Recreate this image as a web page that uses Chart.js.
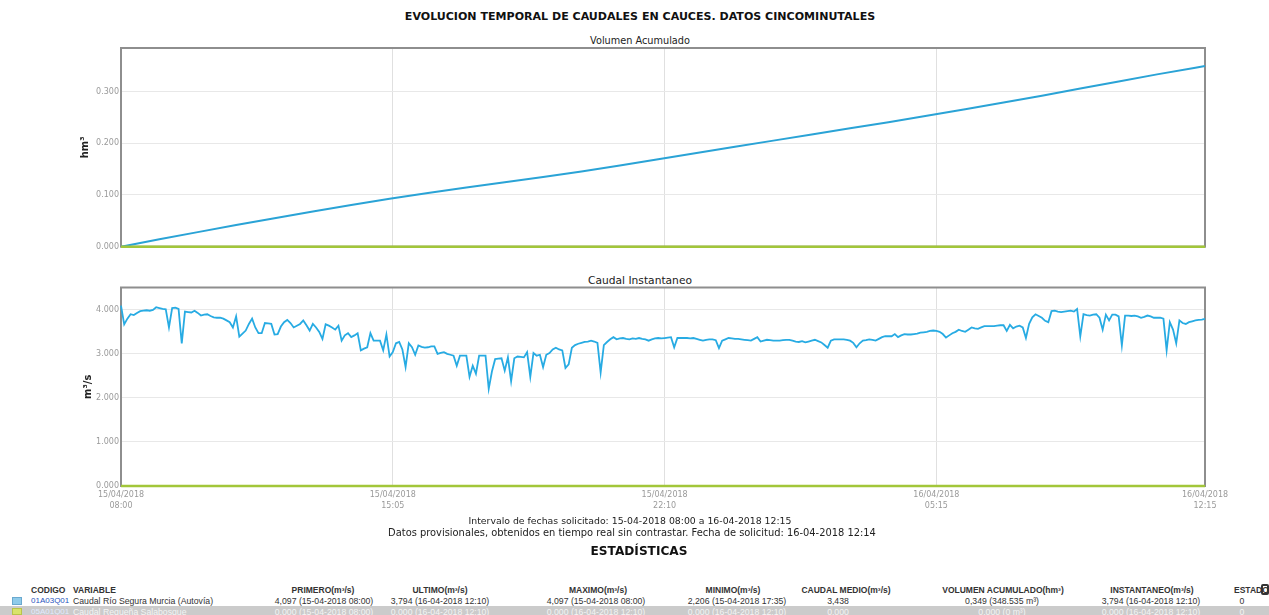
<!DOCTYPE html>
<html lang="es"><head><meta charset="utf-8">
<title>Evolución temporal de caudales</title>
<script src="https://cdn.jsdelivr.net/npm/chart.js@4.4.1/dist/chart.umd.min.js"></script>
<style>
html,body{margin:0;padding:0;background:#fff;}
body{width:1269px;height:615px;overflow:hidden;position:relative;font-family:"DejaVu Sans",sans-serif;color:#222;}
.t{position:absolute;white-space:nowrap;transform:translate(-50%,-50%);line-height:1;}
.l{position:absolute;white-space:nowrap;transform:translateY(-50%);line-height:1;}
canvas{position:absolute;left:0;}
.h{font-family:"Liberation Sans",Arial,sans-serif;font-weight:bold;font-size:8.5px;color:#333;}
.v{font-family:"Liberation Sans",Arial,sans-serif;font-size:8.7px;color:#333;}
.c{font-size:8px;}
.r2{color:#f4f4f4;}
.code{color:#2a55c0;}
.code.r2{color:#e2eaff;}
</style></head><body>
<div class="t" style="left:640px;top:17px;font-weight:bold;font-size:12px;color:#111" data-w="471">EVOLUCION TEMPORAL DE CAUDALES EN CAUCES. DATOS CINCOMINUTALES</div>
<div class="t" style="left:640px;top:41px;font-size:10px;color:#222" data-w="100">Volumen Acumulado</div>
<canvas id="c1" width="1269" height="230" style="top:30px"></canvas>
<div class="t" style="left:640px;top:281px;font-size:10px;color:#222" data-w="104">Caudal Instantaneo</div>
<canvas id="c2" width="1269" height="250" style="top:270px"></canvas>

<div class="t" style="left:630px;top:521px;font-size:11px;color:#222" data-w="323">Intervalo de fechas solicitado: 15-04-2018 08:00 a 16-04-2018 12:15</div>
<div class="t" style="left:632px;top:533px;font-size:11px;color:#222" data-w="489">Datos provisionales, obtenidos en tiempo real sin contrastar. Fecha de solicitud: 16-04-2018 12:14</div>
<div class="t" style="left:639px;top:551px;font-size:11px;font-weight:bold;color:#111" data-w="97">ESTADÍSTICAS</div>

<div style="position:absolute;left:1261px;top:584px;width:8px;height:11px;border:2px solid #333;border-radius:2px;box-sizing:border-box;"></div>

<!-- table -->
<div class="l h" style="left:31px;top:590px">CODIGO</div>
<div class="l h" style="left:73px;top:590px">VARIABLE</div>
<div class="t h" style="left:323px;top:590px">PRIMERO(m³/s)</div>
<div class="t h" style="left:440px;top:590px">ULTIMO(m³/s)</div>
<div class="t h" style="left:598px;top:590px">MAXIMO(m³/s)</div>
<div class="t h" style="left:733px;top:590px">MINIMO(m³/s)</div>
<div class="t h" style="left:846px;top:590px">CAUDAL MEDIO(m³/s)</div>
<div class="t h" style="left:1003px;top:590px">VOLUMEN ACUMULADO(hm³)</div>
<div class="t h" style="left:1152px;top:590px">INSTANTANEO(m³/s)</div>
<div class="l h" style="left:1234px;top:590px">ESTADO</div>

<div style="position:absolute;left:12px;top:597px;width:10px;height:8px;background:#8fcbea;border:1px solid #6aa9cf;box-sizing:border-box"></div>
<div class="l v c code" style="left:31px;top:601px">01A03Q01</div>
<div class="l v" style="left:73px;top:601px">Caudal Río Segura Murcia (Autovía)</div>
<div class="t v" style="left:324px;top:601px">4,097 (15-04-2018 08:00)</div>
<div class="t v" style="left:440px;top:601px">3,794 (16-04-2018 12:10)</div>
<div class="t v" style="left:596px;top:601px">4,097 (15-04-2018 08:00)</div>
<div class="t v" style="left:737px;top:601px">2,206 (15-04-2018 17:35)</div>
<div class="t v" style="left:838px;top:601px">3,438</div>
<div class="t v" style="left:1002px;top:601px">0,349 (348.535 m³)</div>
<div class="t v" style="left:1151px;top:601px">3,794 (16-04-2018 12:10)</div>
<div class="t v" style="left:1242px;top:601px">0</div>

<div style="position:absolute;left:0;top:606px;width:1269px;height:9px;background:#cbcbcb"></div>
<div style="position:absolute;left:12px;top:608px;width:10px;height:7px;background:#d9e36a;border:1px solid #b8c44a;box-sizing:border-box"></div>
<div class="l v c code r2" style="left:31px;top:612px">05A01Q01</div>
<div class="l v r2" style="left:73px;top:612px">Caudal Requeña Salabosque</div>
<div class="t v r2" style="left:324px;top:612px">0.000 (15-04-2018 08:00)</div>
<div class="t v r2" style="left:440px;top:612px">0.000 (16-04-2018 12:10)</div>
<div class="t v r2" style="left:596px;top:612px">0.000 (16-04-2018 12:10)</div>
<div class="t v r2" style="left:737px;top:612px">0.000 (16-04-2018 12:10)</div>
<div class="t v r2" style="left:838px;top:612px">0.000</div>
<div class="t v r2" style="left:1002px;top:612px">0,000 (0 m³)</div>
<div class="t v r2" style="left:1151px;top:612px">0.000 (16-04-2018 12:10)</div>
<div class="t v r2" style="left:1242px;top:612px">0</div>

<script>
// ---- DATA ----
// x positions are 5-minute steps from 15/04/2018 08:00 (index 0) to 16/04/2018 12:15 (index 339)
const xTickIdx = [0, 85, 170, 255, 339];
const xTickLabels = [["15/04/2018","08:00"],["15/04/2018","15:05"],["15/04/2018","22:10"],["16/04/2018","05:15"],["16/04/2018","12:15"]];

// Caudal instantáneo (m³/s) – 01A03Q01 Caudal Río Segura Murcia (Autovía)
const caudalSegura = [
 4.097,3.67,3.80,3.90,3.88,3.93,3.97,3.98,3.99,3.98,
 4.00,4.06,4.04,4.02,4.01,3.60,4.04,4.05,4.02,3.24,
 3.96,3.95,3.94,3.98,3.93,3.87,3.89,3.90,3.86,3.83,
 3.82,3.82,3.80,3.76,3.72,3.60,3.85,3.39,3.46,3.53,
 3.68,3.80,3.60,3.47,3.47,3.70,3.69,3.68,3.44,3.45,
 3.62,3.72,3.77,3.70,3.60,3.64,3.68,3.76,3.65,3.53,
 3.68,3.60,3.50,3.34,3.67,3.64,3.60,3.55,3.64,3.30,
 3.42,3.47,3.38,3.42,3.47,3.08,3.12,3.15,3.47,3.30,
 3.30,3.30,3.08,3.44,2.94,3.04,3.24,3.27,3.10,2.70,
 3.24,3.15,2.98,3.19,3.16,3.14,3.15,3.17,3.17,3.00,
 3.02,3.04,3.00,2.98,2.96,2.73,2.96,2.96,2.96,2.48,
 2.73,2.55,2.96,2.96,2.96,2.206,2.60,2.88,2.89,2.90,
 2.62,2.92,2.38,2.90,2.94,2.93,2.92,3.04,2.48,3.02,
 2.96,2.98,2.70,2.98,3.02,3.10,3.14,3.10,3.08,2.68,
 2.76,3.14,3.20,3.23,3.25,3.27,3.28,3.30,3.28,3.25,
 2.58,3.20,3.27,3.33,3.38,3.33,3.35,3.36,3.34,3.33,
 3.35,3.34,3.36,3.34,3.33,3.30,3.33,3.35,3.36,3.35,
 3.36,3.37,3.38,3.15,3.36,3.36,3.36,3.36,3.35,3.36,
 3.34,3.32,3.30,3.32,3.33,3.33,3.31,3.13,3.30,3.33,
 3.36,3.35,3.34,3.34,3.33,3.32,3.31,3.30,3.34,3.38,
 3.28,3.30,3.32,3.31,3.30,3.30,3.30,3.31,3.32,3.32,
 3.30,3.28,3.27,3.29,3.26,3.28,3.30,3.32,3.29,3.26,
 3.20,3.14,3.30,3.33,3.33,3.33,3.33,3.32,3.30,3.25,
 3.15,3.24,3.30,3.31,3.33,3.32,3.30,3.34,3.38,3.40,
 3.40,3.40,3.45,3.38,3.42,3.45,3.44,3.44,3.45,3.46,
 3.48,3.49,3.50,3.52,3.53,3.52,3.50,3.45,3.37,3.42,
 3.47,3.50,3.55,3.52,3.50,3.55,3.60,3.58,3.57,3.60,
 3.63,3.63,3.63,3.63,3.64,3.65,3.65,3.52,3.66,3.58,
 3.62,3.64,3.60,3.36,3.68,3.83,3.90,3.86,3.82,3.75,
 3.72,3.97,3.98,3.96,3.95,3.96,3.97,3.98,3.96,4.02,
 3.40,3.90,3.88,3.87,3.89,3.90,3.82,3.55,3.89,3.76,
 3.89,3.89,3.85,3.19,3.87,3.87,3.86,3.87,3.85,3.82,
 3.84,3.87,3.85,3.82,3.82,3.82,3.80,3.08,3.72,3.55,
 3.24,3.76,3.70,3.68,3.72,3.74,3.76,3.77,3.78,3.794
];

// Volumen acumulado (hm³)
const volIdx = [0,12,24,36,48,60,72,84,96,108,120,132,144,156,168,180,192,204,216,228,240,252,264,276,288,300,312,324,336,339];
const volSegura = [0,0.0142,0.0282,0.0420,0.0549,0.0680,0.0807,0.0926,0.1038,0.1145,0.1244,0.1347,0.1455,0.1571,0.1691,0.1811,0.1930,0.2050,0.2169,0.2287,0.2406,0.2530,0.2655,0.2785,0.2917,0.3057,0.3194,0.3330,0.3460,0.3490];

// 05A01Q01 Caudal Requeña Salabosque – zero throughout
const requenaIdx = [0, 339];
const requenaCaudal = [0.000, 0.000];
const requenaVol = [0.000, 0.000];

const volTicks = [0, 0.1, 0.2, 0.3];
const volMax = 0.384;
const caudalTicks = [0, 1, 2, 3, 4];
const caudalMax = 4.507;

// ---- STYLE ----
const BLUE = '#27abe3';
const BLUE_DARK = '#2aa3d6';
const GREEN = '#a2c63a';
const TICK_FONT = {family:'DejaVu Sans', size:8};

// fit text widths
document.querySelectorAll('[data-w]').forEach(el=>{
  const target=+el.dataset.w; const w=el.getBoundingClientRect().width;
  const fs=parseFloat(getComputedStyle(el).fontSize);
  if(w>0) el.style.fontSize=(fs*target/w).toFixed(2)+'px';
});

const frame = {id:'frame', beforeDatasetsDraw(chart){
  const {ctx, chartArea:a} = chart;
  ctx.save(); ctx.strokeStyle='#8e8e8e'; ctx.lineWidth=2;
  ctx.strokeRect(a.left, a.top, a.right-a.left, a.bottom-a.top);
  ctx.restore();
}};

function pts(idx, vals){ return vals.map((v,i)=>({x: idx ? idx[i] : i, y: v})); }

function makeChart(id, cfg){
  return new Chart(document.getElementById(id), {
    type:'line',
    data:{datasets:cfg.datasets},
    options:{
      responsive:false, animation:false, devicePixelRatio:1,
      layout:{padding:cfg.padding},
      plugins:{legend:{display:false}, tooltip:{enabled:false}, title:{display:false}},
      elements:{point:{radius:0}, line:{tension:0}},
      scales:{
        x:{type:'linear', min:0, max:339,
          afterFit(s){ s.height = cfg.xHeight; },
          afterBuildTicks(s){ s.ticks = xTickIdx.map(v=>({value:v})); },
          ticks:{display:cfg.xLabels, callback:(v,i)=>xTickLabels[i], color:'#9a9a9a',
                 font:{family:'DejaVu Sans', size:8, lineHeight:1.4}, padding:3, maxRotation:0, autoSkip:false},
          grid:{color:'#e0e0e0', drawTicks:false}, border:{display:false}},
        y:{min:0, max:cfg.yMax,
          afterFit(s){ s.width = 121; },
          afterBuildTicks(s){ s.ticks = cfg.yTicks.map(v=>({value:v})); },
          ticks:{callback:v=>Number(v).toFixed(3), color:'#9a9a9a', font:TICK_FONT, padding:2, autoSkip:false},
          grid:{color:'#e8e8e8', drawTicks:false}, border:{display:false},
          title:{display:true, text:cfg.yTitle, color:'#222', font:{family:'DejaVu Sans', size:10, weight:'bold'}, padding:{top:cfg.titlePad, bottom:0}}}
      }
    },
    plugins:[frame]
  });
}

makeChart('c1', {
  datasets:[
    {data:pts(requenaIdx, requenaVol), borderColor:GREEN, borderWidth:2.5, clip:false},
    {data:pts(volIdx, volSegura), borderColor:BLUE_DARK, borderWidth:2, clip:false}
  ],
  padding:{left:0, right:64, top:18, bottom:13.3},
  xHeight:0, xLabels:false, yMax:volMax, yTicks:volTicks, yTitle:'hm³', titlePad:79
});

makeChart('c2', {
  datasets:[
    {data:pts(requenaIdx, requenaCaudal), borderColor:GREEN, borderWidth:2.5, clip:false},
    {data:pts(null, caudalSegura), borderColor:BLUE, borderWidth:1.8, clip:false}
  ],
  padding:{left:0, right:64, top:17.5, bottom:0},
  xHeight:34, xLabels:true, yMax:caudalMax, yTicks:caudalTicks, yTitle:'m³/s', titlePad:82
});
</script>
</body></html>
